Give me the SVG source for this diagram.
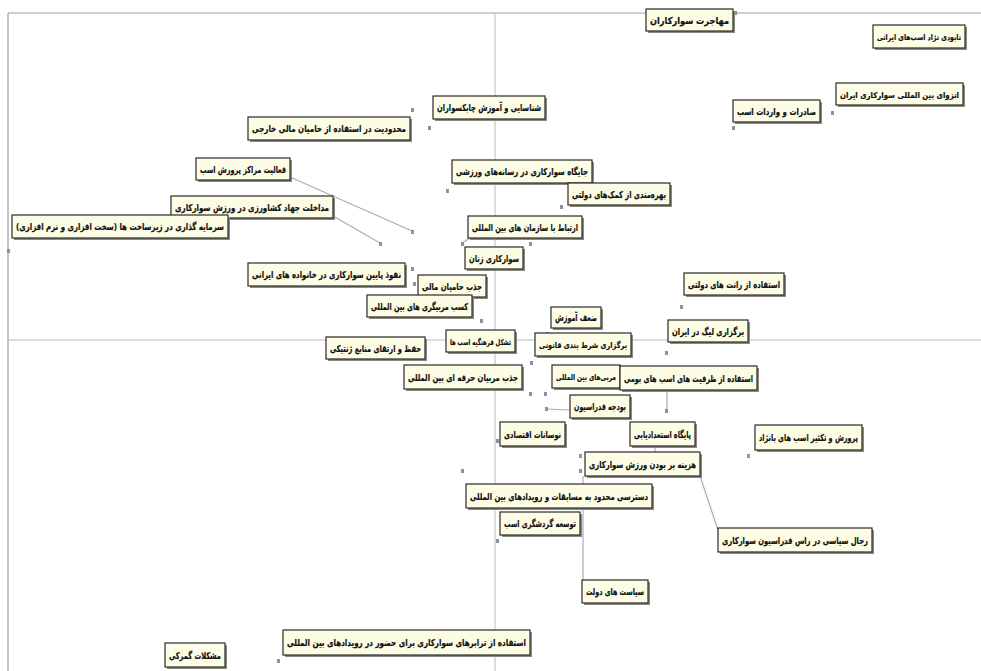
<svg xmlns="http://www.w3.org/2000/svg" width="981" height="671" viewBox="0 0 981 671">
<style>
.ax{stroke:#b8bcc4;stroke-width:1;fill:none}
.fr{stroke:#9a9ea6;stroke-width:1.2;fill:none}
.cn{stroke:#a8adb8;stroke-width:1.2;fill:none}
.sh{fill:#8a8a80}
.bx{fill:#fdfde6;stroke:#2a2a2a;stroke-width:1.2}
.pt{fill:#8c92a0}
text{font-family:"DejaVu Sans",sans-serif;font-weight:bold;font-size:9.5px;fill:#111;stroke:#111;stroke-width:0.2;text-anchor:middle;direction:rtl}
text.s{font-size:8px}
</style>
<rect width="981" height="671" fill="#fff"/>
<g id="axes">
<line class="fr" x1="8" y1="13" x2="981" y2="13"/>
<line class="fr" x1="8" y1="13" x2="8" y2="671"/>
<line class="ax" x1="495" y1="13" x2="495" y2="671"/>
<line class="ax" x1="8" y1="340" x2="981" y2="340"/>
</g>
<g id="connectors">
<line class="cn" x1="290" y1="177" x2="412" y2="231"/>
<line class="cn" x1="333" y1="216" x2="380" y2="243"/>
<line class="cn" x1="700" y1="476" x2="718" y2="530"/>
<line class="cn" x1="583" y1="476" x2="583" y2="580"/>
<line class="cn" x1="547" y1="409" x2="570" y2="410"/>
<line class="cn" x1="667" y1="390" x2="667" y2="410"/>
<line class="cn" x1="655" y1="446" x2="655" y2="452"/>
<line class="cn" x1="470" y1="238" x2="462" y2="243"/>
</g>
<g id="points">
<rect class="pt" x="734" y="11" width="3" height="4"/>
<rect class="pt" x="831" y="111" width="3" height="4"/>
<rect class="pt" x="732" y="126" width="3" height="4"/>
<rect class="pt" x="411" y="108" width="3" height="4"/>
<rect class="pt" x="428" y="126" width="3" height="4"/>
<rect class="pt" x="411" y="230" width="3" height="4"/>
<rect class="pt" x="446" y="189" width="3" height="4"/>
<rect class="pt" x="560" y="205" width="3" height="4"/>
<rect class="pt" x="379" y="242" width="3" height="4"/>
<rect class="pt" x="7" y="249" width="3" height="4"/>
<rect class="pt" x="461" y="242" width="3" height="4"/>
<rect class="pt" x="529" y="242" width="3" height="4"/>
<rect class="pt" x="411" y="267" width="3" height="4"/>
<rect class="pt" x="413" y="282" width="3" height="4"/>
<rect class="pt" x="480" y="319" width="3" height="4"/>
<rect class="pt" x="546" y="332" width="3" height="4"/>
<rect class="pt" x="680" y="305" width="3" height="4"/>
<rect class="pt" x="665" y="351" width="3" height="4"/>
<rect class="pt" x="530" y="361" width="3" height="4"/>
<rect class="pt" x="429" y="365" width="3" height="4"/>
<rect class="pt" x="444" y="365" width="3" height="4"/>
<rect class="pt" x="529" y="392" width="3" height="4"/>
<rect class="pt" x="544" y="392" width="3" height="4"/>
<rect class="pt" x="665" y="409" width="3" height="4"/>
<rect class="pt" x="545" y="407" width="3" height="4"/>
<rect class="pt" x="496" y="439" width="3" height="4"/>
<rect class="pt" x="747" y="454" width="3" height="4"/>
<rect class="pt" x="579" y="454" width="3" height="4"/>
<rect class="pt" x="579" y="469" width="3" height="4"/>
<rect class="pt" x="461" y="469" width="3" height="4"/>
<rect class="pt" x="496" y="539" width="3" height="4"/>
<rect class="pt" x="277" y="659" width="3" height="4"/>
</g>
<g id="n1"><rect class="sh" x="648" y="11" width="87" height="22"/><rect class="bx" x="646" y="9" width="87" height="22"/><text x="689.5" y="23.5" textLength="79" lengthAdjust="spacingAndGlyphs">مهاجرت سوارکاران</text></g>
<g id="n2"><rect class="sh" x="875" y="27" width="92" height="23"/><rect class="bx" x="873" y="25" width="92" height="23"/><text class="s" x="919" y="40" textLength="84" lengthAdjust="spacingAndGlyphs">نابودی نژاد اسب‌های ایرانی</text></g>
<g id="n3"><rect class="sh" x="838" y="85" width="127" height="22"/><rect class="bx" x="836" y="83" width="127" height="22"/><text class="s" x="899.5" y="97.5" textLength="119" lengthAdjust="spacingAndGlyphs">انزوای بین المللی سوارکاری ایران</text></g>
<g id="n4"><rect class="sh" x="735" y="102" width="87" height="22"/><rect class="bx" x="733" y="100" width="87" height="22"/><text x="776.5" y="114.5" textLength="79" lengthAdjust="spacingAndGlyphs">صادرات و واردات اسب</text></g>
<g id="n5"><rect class="sh" x="435" y="98" width="112" height="23"/><rect class="bx" x="433" y="96" width="112" height="23"/><text x="489" y="111" textLength="104" lengthAdjust="spacingAndGlyphs">شناسایی و آموزش چابکسواران</text></g>
<g id="n6"><rect class="sh" x="250" y="119" width="162" height="23"/><rect class="bx" x="248" y="117" width="162" height="23"/><text x="329" y="132" textLength="154" lengthAdjust="spacingAndGlyphs">محدودیت در استفاده از حامیان مالی خارجی</text></g>
<g id="n7"><rect class="sh" x="198" y="160" width="94" height="22"/><rect class="bx" x="196" y="158" width="94" height="22"/><text x="243" y="172.5" textLength="86" lengthAdjust="spacingAndGlyphs">فعالیت مراکز پرورش اسب</text></g>
<g id="n8"><rect class="sh" x="454" y="162" width="140" height="23"/><rect class="bx" x="452" y="160" width="140" height="23"/><text x="522" y="175" textLength="132" lengthAdjust="spacingAndGlyphs">جایگاه سوارکاری در رسانه‌های ورزشی</text></g>
<g id="n9"><rect class="sh" x="570" y="185" width="102" height="22"/><rect class="bx" x="568" y="183" width="102" height="22"/><text x="619" y="197.5" textLength="94" lengthAdjust="spacingAndGlyphs">بهره‌مندی از کمک‌های دولتی</text></g>
<g id="n10"><rect class="sh" x="173" y="198" width="162" height="22"/><rect class="bx" x="171" y="196" width="162" height="22"/><text x="252" y="210.5" textLength="154" lengthAdjust="spacingAndGlyphs">مداخلت جهاد کشاورزی در ورزش سوارکاری</text></g>
<g id="n11"><rect class="sh" x="14" y="217" width="216" height="23"/><rect class="bx" x="12" y="215" width="216" height="23"/><text x="120" y="230" textLength="208" lengthAdjust="spacingAndGlyphs">سرمایه گذاری در زیرساخت ها (سخت افزاری و نرم افزاری)</text></g>
<g id="n12"><rect class="sh" x="470" y="218" width="114" height="22"/><rect class="bx" x="468" y="216" width="114" height="22"/><text x="525" y="230.5" textLength="106" lengthAdjust="spacingAndGlyphs">ارتباط با سازمان های بین المللی</text></g>
<g id="n13"><rect class="sh" x="467" y="249" width="58" height="22"/><rect class="bx" x="465" y="247" width="58" height="22"/><text x="494" y="261.5" textLength="50" lengthAdjust="spacingAndGlyphs">سوارکاری زنان</text></g>
<g id="n14"><rect class="sh" x="250" y="265" width="157" height="23"/><rect class="bx" x="248" y="263" width="157" height="23"/><text x="326.5" y="278" textLength="149" lengthAdjust="spacingAndGlyphs">نفوذ پایین سوارکاری در خانواده های ایرانی</text></g>
<g id="n15"><rect class="sh" x="420" y="277" width="68" height="22"/><rect class="bx" x="418" y="275" width="68" height="22"/><text x="452" y="289.5" textLength="60" lengthAdjust="spacingAndGlyphs">جذب حامیان مالی</text></g>
<g id="n16"><rect class="sh" x="369" y="297" width="105" height="22"/><rect class="bx" x="367" y="295" width="105" height="22"/><text x="419.5" y="309.5" textLength="97" lengthAdjust="spacingAndGlyphs">کسب مربیگری های بین المللی</text></g>
<g id="n17"><rect class="sh" x="553" y="309" width="50" height="21"/><rect class="bx" x="551" y="307" width="50" height="21"/><text x="576" y="321" textLength="42" lengthAdjust="spacingAndGlyphs">ضعف آموزش</text></g>
<g id="n18"><rect class="sh" x="686" y="275" width="100" height="22"/><rect class="bx" x="684" y="273" width="100" height="22"/><text x="734" y="287.5" textLength="92" lengthAdjust="spacingAndGlyphs">استفاده از رانت های دولتی</text></g>
<g id="n19"><rect class="sh" x="670" y="322" width="80" height="22"/><rect class="bx" x="668" y="320" width="80" height="22"/><text x="708" y="334.5" textLength="72" lengthAdjust="spacingAndGlyphs">برگزاری لیگ در ایران</text></g>
<g id="n20"><rect class="sh" x="537" y="335" width="96" height="23"/><rect class="bx" x="535" y="333" width="96" height="23"/><text class="s" x="583" y="348" textLength="88" lengthAdjust="spacingAndGlyphs">برگزاری شرط بندی قانونی</text></g>
<g id="n21"><rect class="sh" x="448" y="332" width="69" height="22"/><rect class="bx" x="446" y="330" width="69" height="22"/><text class="s" x="480.5" y="344.5" textLength="61" lengthAdjust="spacingAndGlyphs">تشکل فرهنگیه اسب ها</text></g>
<g id="n22"><rect class="sh" x="328" y="339" width="99" height="22"/><rect class="bx" x="326" y="337" width="99" height="22"/><text x="375.5" y="351.5" textLength="91" lengthAdjust="spacingAndGlyphs">حفظ و ارتقای منابع ژنتیکی</text></g>
<g id="n23"><rect class="sh" x="406" y="367" width="118" height="24"/><rect class="bx" x="404" y="365" width="118" height="24"/><text x="463" y="380.5" textLength="110" lengthAdjust="spacingAndGlyphs">جذب مربیان حرفه ای بین المللی</text></g>
<g id="n24"><rect class="sh" x="554" y="367" width="68" height="23"/><rect class="bx" x="552" y="365" width="68" height="23"/><text class="s" x="586" y="380" textLength="60" lengthAdjust="spacingAndGlyphs">مربی‌های بین المللی</text></g>
<g id="n25"><rect class="sh" x="622" y="368" width="137" height="24"/><rect class="bx" x="620" y="366" width="137" height="24"/><text x="688.5" y="381.5" textLength="129" lengthAdjust="spacingAndGlyphs">استفاده از ظرفیت های اسب های بومی</text></g>
<g id="n26"><rect class="sh" x="572" y="397" width="60" height="23"/><rect class="bx" x="570" y="395" width="60" height="23"/><text x="600" y="410" textLength="52" lengthAdjust="spacingAndGlyphs">بودجه فدراسیون</text></g>
<g id="n27"><rect class="sh" x="632" y="424" width="65" height="24"/><rect class="bx" x="630" y="422" width="65" height="24"/><text x="662.5" y="437.5" textLength="57" lengthAdjust="spacingAndGlyphs">پایگاه استعدادیابی</text></g>
<g id="n28"><rect class="sh" x="502" y="424" width="65" height="24"/><rect class="bx" x="500" y="422" width="65" height="24"/><text x="532.5" y="437.5" textLength="57" lengthAdjust="spacingAndGlyphs">نوسانات اقتصادی</text></g>
<g id="n29"><rect class="sh" x="757" y="427" width="107" height="25"/><rect class="bx" x="755" y="425" width="107" height="25"/><text x="808.5" y="441" textLength="99" lengthAdjust="spacingAndGlyphs">پرورش و تکثیر اسب های بانژاد</text></g>
<g id="n30"><rect class="sh" x="587" y="454" width="115" height="24"/><rect class="bx" x="585" y="452" width="115" height="24"/><text x="642.5" y="467.5" textLength="107" lengthAdjust="spacingAndGlyphs">هزینه بر بودن ورزش سوارکاری</text></g>
<g id="n31"><rect class="sh" x="468" y="486" width="186" height="24"/><rect class="bx" x="466" y="484" width="186" height="24"/><text x="559" y="499.5" textLength="178" lengthAdjust="spacingAndGlyphs">دسترسی محدود به مسابقات و رویدادهای بین المللی</text></g>
<g id="n32"><rect class="sh" x="502" y="514" width="80" height="23"/><rect class="bx" x="500" y="512" width="80" height="23"/><text x="540" y="527" textLength="72" lengthAdjust="spacingAndGlyphs">توسعه گردشگری اسب</text></g>
<g id="n33"><rect class="sh" x="720" y="530" width="154" height="24"/><rect class="bx" x="718" y="528" width="154" height="24"/><text x="795" y="543.5" textLength="146" lengthAdjust="spacingAndGlyphs">رجال سیاسی در راس فدراسیون سوارکاری</text></g>
<g id="n34"><rect class="sh" x="584" y="582" width="66" height="23"/><rect class="bx" x="582" y="580" width="66" height="23"/><text x="615" y="595" textLength="58" lengthAdjust="spacingAndGlyphs">سیاست های دولت</text></g>
<g id="n35"><rect class="sh" x="285" y="632" width="247" height="25"/><rect class="bx" x="283" y="630" width="247" height="25"/><text x="406.5" y="646" textLength="239" lengthAdjust="spacingAndGlyphs">استفاده از ترابرهای سوارکاری برای حضور در رویدادهای بین المللی</text></g>
<g id="n36"><rect class="sh" x="167" y="645" width="60" height="24"/><rect class="bx" x="165" y="643" width="60" height="24"/><text x="195" y="658.5" textLength="52" lengthAdjust="spacingAndGlyphs">مشکلات گمرکی</text></g>
</svg>
